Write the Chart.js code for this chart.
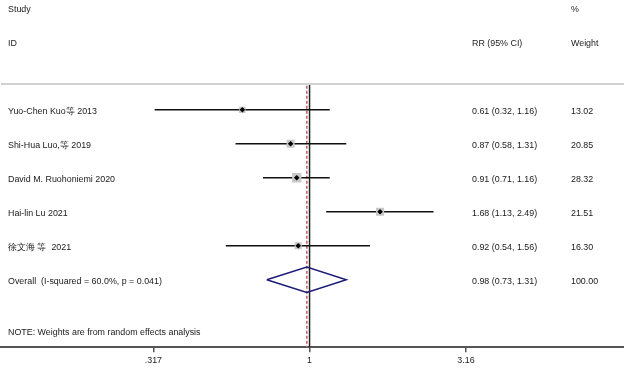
<!DOCTYPE html>
<html>
<head>
<meta charset="utf-8">
<script src="https://cdn.jsdelivr.net/npm/chart.js@4/dist/chart.umd.min.js"></script>
<style>
html,body{margin:0;padding:0;background:#fff;}
canvas{display:block;}
</style>
</head>
<body>
<canvas id="c" width="624" height="371"></canvas>
<script>
// ---- Data ----
const studies = ["Yuo-Chen Kuo等 2013", "Shi-Hua Luo,等 2019", "David M. Ruohoniemi 2020", "Hai-lin Lu 2021", "徐文海 等  2021"];
const rr      = [0.61, 0.87, 0.91, 1.68, 0.92];
const ciLow   = [0.32, 0.58, 0.71, 1.13, 0.54];
const ciHigh  = [1.16, 1.31, 1.16, 2.49, 1.56];
const weights = [13.02, 20.85, 28.32, 21.51, 16.30];
const overallLabel = "Overall  (I-squared = 60.0%, p = 0.041)";
const overallRR = 0.98, overallLow = 0.73, overallHigh = 1.31, overallWeight = 100.00;
const tickValues = [0.317, 1, 3.16];
const tickLabels = [".317", "1", "3.16"];
const noteText = "NOTE: Weights are from random effects analysis";

const fmt = v => v.toFixed(2);
const rows = studies.map((_, i) => i + 1);
const overallRow = studies.length + 1;
const FONT = "Liberation Sans, Arial, sans-serif";
const FS = 8.9;

const datasets = [];
// CI lines
studies.forEach((s, i) => {
  datasets.push({
    type: 'scatter', showLine: true,
    data: [{x: ciLow[i], y: rows[i]}, {x: ciHigh[i], y: rows[i]}],
    borderColor: '#111', borderWidth: 1.5, pointRadius: 0, order: 3
  });
});
// weight boxes
datasets.push({
  type: 'scatter',
  data: studies.map((_, i) => ({x: rr[i], y: rows[i], w: weights[i]})),
  pointStyle: 'rect',
  pointRadius: ctx => 1.75 * Math.sqrt(ctx.raw.w) / Math.SQRT2,
  backgroundColor: '#c8c8c8', borderColor: '#c8c8c8', borderWidth: 0, order: 2
});
// point estimate markers
datasets.push({
  type: 'scatter',
  data: studies.map((_, i) => ({x: rr[i], y: rows[i]})),
  pointStyle: 'rectRot', pointRadius: 2.8,
  backgroundColor: '#000', borderColor: '#000', borderWidth: 0, order: 1
});
// null line at 1
datasets.push({
  type: 'scatter', showLine: true,
  data: [{x: 1, y: 0}, {x: 1, y: 10}],
  borderColor: '#222', borderWidth: 1.5, pointRadius: 0, order: 4
});
// overall dashed line
datasets.push({
  type: 'scatter', showLine: true,
  data: [{x: overallRR, y: 0}, {x: overallRR, y: 10}],
  borderColor: '#c0646e', borderWidth: 1.6, borderDash: [3, 2], pointRadius: 0, order: 4
});
// overall diamond
const dh = 0.375;
datasets.push({
  type: 'scatter', showLine: true,
  data: [{x: overallLow, y: overallRow}, {x: overallRR, y: overallRow - dh},
         {x: overallHigh, y: overallRow}, {x: overallRR, y: overallRow + dh},
         {x: overallLow, y: overallRow}],
  borderColor: '#1c1c78', borderWidth: 1.5, pointRadius: 0, tension: 0, order: 0
});

const textPlugin = {
  id: 'forestText',
  afterDraw(chart) {
    const {ctx, chartArea, scales} = chart;
    const ys = scales.y;
    const py = v => ys.getPixelForValue(v) + 1.6;
    ctx.save();
    // top separator
    ctx.strokeStyle = '#d2d2d2';
    ctx.lineWidth = 2;
    ctx.beginPath();
    ctx.moveTo(1, chartArea.top);
    ctx.lineTo(624, chartArea.top);
    ctx.stroke();

    ctx.fillStyle = '#1a1a1a';
    ctx.font = FS + 'px ' + FONT;
    ctx.textBaseline = 'middle';
    ctx.textAlign = 'left';
    const xName = 8, xCI = 472, xW = 571;
    ctx.fillText('Study', xName, py(-2));
    ctx.fillText('ID', xName, py(-1));
    ctx.fillText('%', xW, py(-2));
    ctx.fillText('RR (95% CI)', xCI, py(-1));
    ctx.fillText('Weight', xW, py(-1));
    studies.forEach((s, i) => {
      const y = py(rows[i]);
      ctx.fillText(s, xName, y);
      ctx.fillText(fmt(rr[i]) + ' (' + fmt(ciLow[i]) + ', ' + fmt(ciHigh[i]) + ')', xCI, y);
      ctx.fillText(fmt(weights[i]), xW, y);
    });
    const yo = py(overallRow);
    ctx.fillText(overallLabel, xName, yo);
    ctx.fillText(fmt(overallRR) + ' (' + fmt(overallLow) + ', ' + fmt(overallHigh) + ')', xCI, yo);
    ctx.fillText(fmt(overallWeight), xW, yo);
    ctx.fillText(noteText, xName, py(overallRow + 1.5));
    ctx.restore();
  }
};

new Chart(document.getElementById('c'), {
  type: 'scatter',
  data: {datasets},
  options: {
    responsive: false,
    animation: false,
    events: [],
    layout: {autoPadding: false, padding: {top: 84, left: 1, right: 0, bottom: 2}},
    plugins: {legend: {display: false}, tooltip: {enabled: false}},
    scales: {
      x: {
        type: 'logarithmic',
        min: 0.1033, max: 10.11,
        afterBuildTicks: scale => { scale.ticks = tickValues.map(v => ({value: v})); },
        ticks: {
          autoSkip: false, maxRotation: 0, padding: 3,
          color: '#1a1a1a', font: {family: FONT, size: FS},
          callback: (v, i) => tickLabels[i]
        },
        grid: {drawOnChartArea: false, drawTicks: true, tickLength: 5, color: '#555', lineWidth: 1.5},
        border: {display: true, color: '#555', width: 2}
      },
      y: {
        type: 'linear', reverse: true, min: 0.24, max: 7.99, display: false
      }
    }
  },
  plugins: [textPlugin]
});
</script>
</body>
</html>
